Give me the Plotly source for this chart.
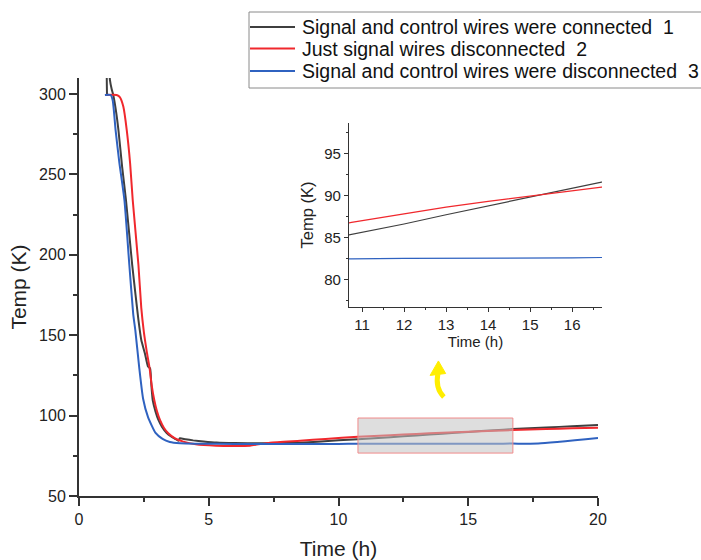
import plotly.graph_objects as go

# ---------------- data ----------------
names = ["Signal and control wires were connected\u00a0\u00a01",
         "Just signal wires disconnected\u00a0\u00a02",
         "Signal and control wires were disconnected\u00a0\u00a03"]

t1 = [1.08, 1.09, 1.14, 1.19, 1.26, 1.32, 1.42, 1.52, 1.66, 1.81, 2.05, 2.18, 2.29, 2.40,
      2.54, 2.66, 2.74, 2.78, 2.84, 2.95, 3.06, 3.20, 3.38, 3.55, 3.70, 3.83, 3.89, 4.10, 4.40,
      4.80, 5.30, 6.00, 7.00, 8.00, 8.50, 9.20, 10.00, 10.75, 12.00, 13.00, 14.00, 15.00, 16.00,
      16.70, 18.00, 19.00, 20.00]
T1 = [299, 325, 325, 309, 303, 299.4, 290, 277.6, 255, 234.1, 193.7, 175, 159.5, 147,
      138.7, 130.5, 129.4, 121, 109.7, 102.5, 97.3, 93.0, 89.2, 87.0, 85.6, 84.4, 85.9, 85.3, 84.6,
      83.9, 83.2, 82.9, 82.8, 82.9, 83.1, 83.8, 84.6, 85.3, 86.6, 87.7, 88.75, 89.85, 90.9,
      91.6, 92.6, 93.4, 94.2]

t2 = [1.00, 1.45, 1.58, 1.71, 1.84, 1.97, 2.07, 2.29, 2.40, 2.50, 2.61, 2.72, 2.80, 2.90,
      3.00, 3.12, 3.27, 3.44, 3.70, 4.02, 4.50, 5.28, 6.00, 6.59, 7.36, 8.52, 9.50, 10.75, 12.00,
      13.00, 14.00, 15.00, 16.00, 16.70, 18.00, 19.00, 20.00]
T2 = [299.4, 299.4, 298, 292.1, 277.6, 256.9, 234.1, 193.7, 167, 152, 140, 129.5, 119, 109.7,
      103, 97.3, 92.5, 89.0, 85.8, 83.8, 82.2, 81.3, 81.1, 81.3, 83.2, 84.4, 85.5, 86.8, 87.8,
      88.6, 89.3, 89.95, 90.55, 91.0, 91.6, 92.1, 92.5]

t3 = [1.00, 1.22, 1.30, 1.41, 1.55, 1.75, 1.94, 2.09, 2.17, 2.32, 2.47, 2.66, 2.95, 3.22, 3.50,
      3.90, 4.50, 6.00, 8.00, 10.00, 10.75, 12.00, 14.00, 16.00, 16.70, 17.70, 20.00]
T3 = [299.4, 299.4, 296, 277.6, 258, 234.1, 193.7, 163, 153.2, 130, 110.5, 99, 89.2, 85.5, 83.6,
      82.8, 82.5, 82.4, 82.4, 82.4, 82.45, 82.5, 82.5, 82.55, 82.6, 82.6, 86.0]

colors = ["#3f3f3f", "#f0282d", "#2f62c0"]

x_ticks = [0, 5, 10, 15, 20]
y_ticks = [50, 100, 150, 200, 250, 300]
inset_x_ticks = [11, 12, 13, 14, 15, 16]
inset_y_ticks = [80, 85, 90, 95]

zoom_x = [10.75, 16.72]
zoom_y = [76.7, 98.5]

FONT = "Liberation Sans, Arial, sans-serif"

# layout geometry (pixels)
W, H = 701, 560
ML, MR, MT, MB = 79, 99, 78, 64
PW, PH = W - ML - MR, H - MT - MB


def px(xp):
    return (xp - ML) / PW


def py(yp):
    return (H - MB - yp) / PH


fig = go.Figure()
series = [(t1, T1), (t2, T2), (t3, T3)]
for (tt, TT), nm, c in zip(series, names, colors):
    fig.add_trace(go.Scatter(x=tt, y=TT, mode="lines", name=nm, showlegend=False,
                             line=dict(color=c, width=2, shape="spline", smoothing=0.5),
                             xaxis="x", yaxis="y"))
for (tt, TT), nm, c in zip(series, names, colors):
    fig.add_trace(go.Scatter(x=tt, y=TT, mode="lines", name=nm, showlegend=False,
                             line=dict(color=c, width=1.2),
                             xaxis="x2", yaxis="y2"))

# zoom box
fig.add_shape(type="rect", xref="x", yref="y", x0=zoom_x[0], x1=zoom_x[1],
              y0=zoom_y[0], y1=zoom_y[1], fillcolor="rgba(195,195,195,0.55)",
              line=dict(color="#f08a8a", width=1), layer="above")

# yellow curved arrow
fig.add_shape(type="path", xref="x", yref="y",
              path="M 14.06,111.6 Q 13.72,117 13.83,126.0",
              line=dict(color="#ffee00", width=5))
fig.add_shape(type="path", xref="x", yref="y",
              path="M 13.85,134.0 L 13.53,125.0 L 14.13,126.2 Z",
              fillcolor="#ffee00", line=dict(color="#ffee00", width=1))

# legend (drawn manually to match the reference spacing)
fig.add_shape(type="rect", xref="paper", yref="paper",
              x0=px(249), x1=px(710), y0=py(88), y1=py(12),
              fillcolor="white", line=dict(color="#8a8a8a", width=1), layer="above")
legend_y = [27, 48.5, 71]
for nm, c, ly in zip(names, colors, legend_y):
    fig.add_shape(type="line", xref="paper", yref="paper",
                  x0=px(250), x1=px(295), y0=py(ly), y1=py(ly),
                  line=dict(color=c, width=2), layer="above")
    fig.add_annotation(xref="paper", yref="paper", x=px(300), y=py(ly),
                       xanchor="left", yanchor="middle", text=nm, showarrow=False,
                       font=dict(size=19.5, family=FONT, color="#111111"))

axis_common = dict(showline=True, linecolor="#333333", showgrid=False, zeroline=False,
                   ticks="outside", tickcolor="#333333", mirror=False)

fig.update_layout(
    width=W, height=H,
    margin=dict(l=ML, r=MR, t=MT, b=MB, autoexpand=False),
    paper_bgcolor="white", plot_bgcolor="white",
    font=dict(family=FONT, color="#222222"),
    showlegend=False,
    xaxis=dict(domain=[0, 519 / PW], range=[0, 20], tickvals=x_ticks,
               tickfont=dict(size=16), linewidth=2, tickwidth=2, ticklen=8,
               minor=dict(ticks="outside", dtick=2.5, tick0=0, ticklen=4, tickwidth=2,
                          tickcolor="#333333"),
               title=dict(text="Time (h)", font=dict(size=21), standoff=14),
               anchor="y", **axis_common),
    yaxis=dict(domain=[0, 1], range=[50, 310], tickvals=y_ticks,
               tickfont=dict(size=16), linewidth=2, tickwidth=2, ticklen=8,
               minor=dict(ticks="outside", dtick=25, tick0=50, ticklen=4, tickwidth=2,
                          tickcolor="#333333"),
               title=dict(text="Temp (K)", font=dict(size=21), standoff=7),
               anchor="x", **axis_common),
    xaxis2=dict(domain=[px(349), 1.0], range=[10.69, 16.71], tickvals=inset_x_ticks,
                tickfont=dict(size=15), linewidth=1.2, tickwidth=1.2, ticklen=4,
                minor=dict(ticks="outside", dtick=0.5, tick0=11, ticklen=2, tickwidth=1,
                           tickcolor="#333333"),
                title=dict(text="Time (h)", font=dict(size=15), standoff=4),
                anchor="y2", **axis_common),
    yaxis2=dict(domain=[py(307), py(123)], range=[76.7, 98.64],
                tickvals=inset_y_ticks,
                tickfont=dict(size=15), linewidth=1.2, tickwidth=1.2, ticklen=4,
                minor=dict(ticks="outside", dtick=2.5, tick0=80, ticklen=2, tickwidth=1,
                           tickcolor="#333333"),
                title=dict(text="Temp (K)", font=dict(size=16.5), standoff=6),
                anchor="x2", **axis_common),
)

fig.write_html("out.html", config={"displayModeBar": False},
               post_script="document.body.style.margin='0px';")
